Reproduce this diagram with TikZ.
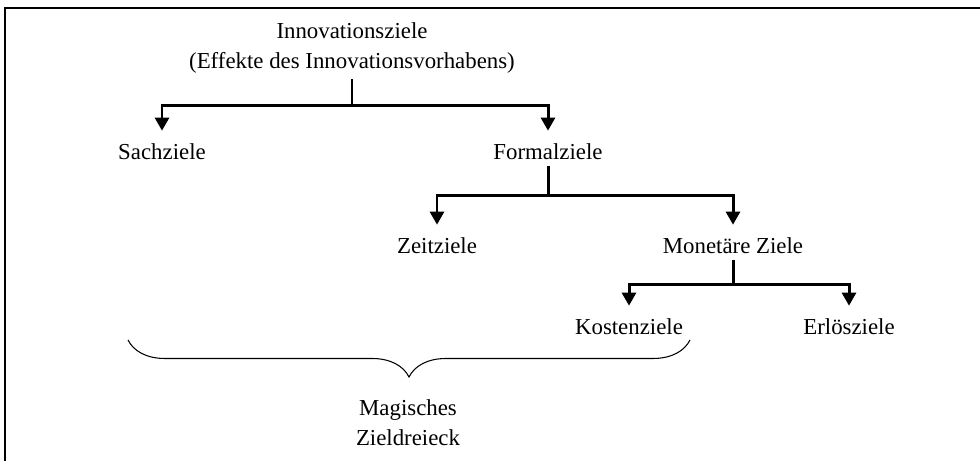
\documentclass[tikz,border=0pt]{standalone}
\usepackage{fontspec}
\setmainfont{Liberation Serif}
\usetikzlibrary{arrows.meta,decorations.pathreplacing}
\tikzset{
    ziel/.style={font=\fontsize{13}{17}\selectfont, align=center},
    stem/.style={line width=1.7pt},
    branch/.style={line width=1.7pt, shorten >=4pt, -{Triangle[width=8pt,length=7.5pt]}},
}
\begin{document}
\begin{tikzpicture}
    \useasboundingbox (0,0) rectangle (19.6,9.22);
    \draw[line width=1pt] (0.1,0) -- (0.1,9.06) -- (19.6,9.06);
    \node[ziel] (innov) at (7.04,8.26) {Innovationsziele\\(Effekte des Innovationsvorhabens)};
    \node[ziel] (sach) at (3.24,6.18) {Sachziele};
    \node[ziel] (formal) at (10.96,6.18) {Formalziele};
    \node[ziel] (zeit) at (8.74,4.30) {Zeitziele};
    \node[ziel] (monetaer) at (14.66,4.30) {Monetäre Ziele};
    \node[ziel] (kosten) at (12.58,2.68) {Kostenziele};
    \node[ziel] (erloes) at (16.98,2.68) {Erlösziele};
    \node[ziel] (magisch) at (8.16,0.76) {Magisches\\Zieldreieck};
    \coordinate (j1) at (7.04,7.10);
    \coordinate (j2) at (10.96,5.30);
    \coordinate (j3) at (14.66,3.52);
    \draw[stem] (innov.south) -- (j1);
    \draw[branch] (j1) -| (sach.north);
    \draw[branch] (j1) -| (formal.north);
    \draw[stem] (formal.south) -- (j2);
    \draw[branch] (j2) -| (zeit.north);
    \draw[branch] (j2) -| (monetaer.north);
    \draw[stem] (monetaer.south) -- (j3);
    \draw[branch] (j3) -| (kosten.north);
    \draw[branch] (j3) -| (erloes.north);
    \coordinate (bl) at (2.56,2.42);
    \coordinate (br) at (13.80,2.42);
    \draw[line width=0.6pt, decorate, decoration={brace, amplitude=0.74cm}] (br) -- (bl);
\end{tikzpicture}
\end{document}
